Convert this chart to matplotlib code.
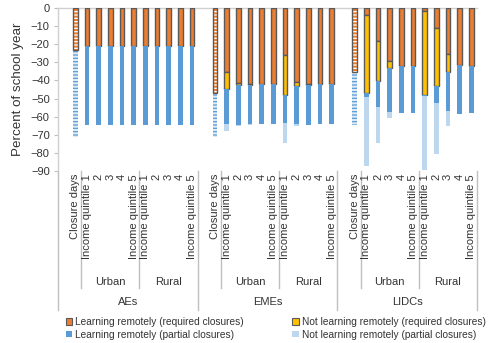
import numpy as np
import matplotlib
matplotlib.use("Agg")
import matplotlib.pyplot as plt
import matplotlib.patches as mpatches
import matplotlib.transforms as mtransforms

plt.rcParams['font.family'] = ['Liberation Sans', 'DejaVu Sans']
plt.rcParams['hatch.linewidth'] = 0.9

groups = ["AEs", "EMEs", "LIDCs"]
areas = ["Urban", "Rural"]
cat_labels = ["Closure days", "Income quintile 1", "2", "3", "4", "Income quintile 5",
              "Income quintile 1", "2", "3", "4", "Income quintile 5"]

# closure days per group (required / partial)
closure_required = [23.3, 46.7, 35.4]
closure_partial = [48.2, 24.4, 29.2]

# per group: urban q1..q5 then rural q1..q5
learn_req = [21.1, 21.1, 21.1, 21.1, 21.1, 21.1, 21.1, 21.1, 21.1, 21.1,
             35.4, 41.5, 41.9, 42.2, 42.2, 26.1, 40.6, 41.9, 42.2, 42.2,
             3.9, 18.1, 29.4, 31.9, 31.9, 1.5, 11.3, 25.6, 31.5, 31.9]
notlearn_req = [0, 0, 0, 0, 0, 0, 0, 0, 0, 0,
                9.2, 1.1, 0.4, 0, 0, 22.2, 2.3, 0.5, 0, 0,
                43.0, 22.1, 3.6, 0, 0, 46.7, 32.0, 9.8, 0, 0]
learn_part = [43.5, 43.5, 43.5, 43.5, 43.5, 43.5, 43.5, 43.5, 43.5, 43.5,
              19.5, 21.8, 21.8, 21.9, 21.9, 15.0, 21.2, 22.0, 21.9, 21.9,
              2.4, 14.2, 24.6, 26.2, 26.2, 0.5, 9.1, 21.3, 27.0, 26.2]
notlearn_part = [0, 0, 0, 0, 0, 0, 0, 0, 0, 0,
                 4.0, 0.6, 0.3, 0, 0, 11.0, 1.3, 0.3, 0, 0,
                 37.9, 19.9, 3.1, 0, 0, 40.7, 28.3, 8.7, 0, 0]

c_orange = '#ED7D31'
c_yellow = '#FFC000'
c_blue = '#5B9BD5'
c_light = '#BDD7EE'
c_edge = '#595959'
c_line = '#BFBFBF'
c_text = '#333333'

fig = plt.figure(figsize=(4.9, 3.43), dpi=100)
ax = fig.add_axes([58 / 490, 1 - 171 / 343, 419 / 490, 163 / 343])

w = 0.4
n_slot = 12

# quintile bars
xq = np.array([12 * g + 2 + i for g in range(3) for i in range(10)])
s1 = np.array(learn_req)
s2 = np.array(notlearn_req)
s3 = np.array(learn_part)
s4 = np.array(notlearn_part)

def seg(top, size, color, edged):
    m = size > 0
    kw = dict(edgecolor=c_edge, linewidth=1.0) if edged else dict(linewidth=0)
    ax.bar(xq[m], -size[m], bottom=-top[m], width=w, color=color, zorder=3, **kw)

seg(np.zeros_like(s1), s1, c_orange, True)
seg(s1, s2, c_yellow, True)
seg(s1 + s2, s3, c_blue, False)
seg(s1 + s2 + s3, s4, c_light, False)

# closure-day bars, patterned
xc = np.array([12 * g + 1 for g in range(3)])
cr = np.array(closure_required)
cp = np.array(closure_partial)
ax.bar(xc, -cr, width=w, color=c_orange, edgecolor='white', hatch='-----',
       linewidth=0, zorder=3)
ax.bar(xc, -cr, width=w, fill=False, edgecolor=c_edge, linewidth=1.0, zorder=4)
ax.bar(xc, -cp, bottom=-cr, width=w, color='#DDEBF7', edgecolor=c_blue,
       hatch='-----', linewidth=0, zorder=3)

ax.set_xlim(-0.5, 3 * n_slot - 0.5)
ax.set_ylim(-90, 0)
ax.set_yticks(np.arange(-90, 1, 10))
ax.set_xticks([])
ax.tick_params(axis='y', direction='out', length=3, width=0.8, color=c_line,
               labelsize=8, labelcolor=c_text, pad=3)
for s in ['right', 'bottom']:
    ax.spines[s].set_visible(False)
for s in ['left', 'top']:
    ax.spines[s].set_color('#D0D0D0')
    ax.spines[s].set_linewidth(1.0)
ax.set_ylabel("Percent of school year", fontsize=9.6, color=c_text, labelpad=5)

# multi-level category axis
tr = mtransforms.blended_transform_factory(ax.transData, ax.transAxes)
y_l2 = (171 - 288) / 163
y_l3 = (171 - 310) / 163
for g in range(3):
    base = 12 * g
    for i, lab in enumerate(cat_labels):
        ax.text(base + 1 + i, -0.018, lab, transform=tr, rotation=90,
                ha='center', va='top', fontsize=8, color=c_text)
    for k, area in enumerate(areas):
        ax.text(base + 4 + 5 * k, (171 - 282) / 163, area, transform=tr,
                ha='center', va='center', fontsize=8, color=c_text)
    ax.text(base + 5.5, (171 - 302) / 163, groups[g], transform=tr,
            ha='center', va='center', fontsize=8, color=c_text)
    for xl in [base + 1.5, base + 6.5]:
        ax.plot([xl, xl], [0, y_l2], transform=tr, color=c_line, lw=1.0,
                clip_on=False)
for xl in [-0.5, 11.5, 23.5, 35.5]:
    ax.plot([xl, xl], [0, y_l3], transform=tr, color=c_line, lw=1.0,
            clip_on=False)

handles = [
    mpatches.Patch(facecolor=c_orange, edgecolor=c_edge, linewidth=0.8,
                   label="Learning remotely (required closures)"),
    mpatches.Patch(facecolor=c_blue, edgecolor='none',
                   label="Learning remotely (partial closures)"),
    mpatches.Patch(facecolor=c_yellow, edgecolor=c_edge, linewidth=0.8,
                   label="Not learning remotely (required closures)"),
    mpatches.Patch(facecolor=c_light, edgecolor='none',
                   label="Not learning remotely (partial closures)"),
]
leg = fig.legend(handles=handles, ncol=2, loc='upper left',
                 bbox_to_anchor=(66 / 490, 1 - 317 / 343), frameon=False,
                 fontsize=7.3, handlelength=0.6, handleheight=0.6,
                 handletextpad=0.3, columnspacing=4.8, labelspacing=0.25,
                 borderpad=0, borderaxespad=0)
for t in leg.get_texts():
    t.set_color(c_text)

fig.savefig("out.png", dpi=100)
